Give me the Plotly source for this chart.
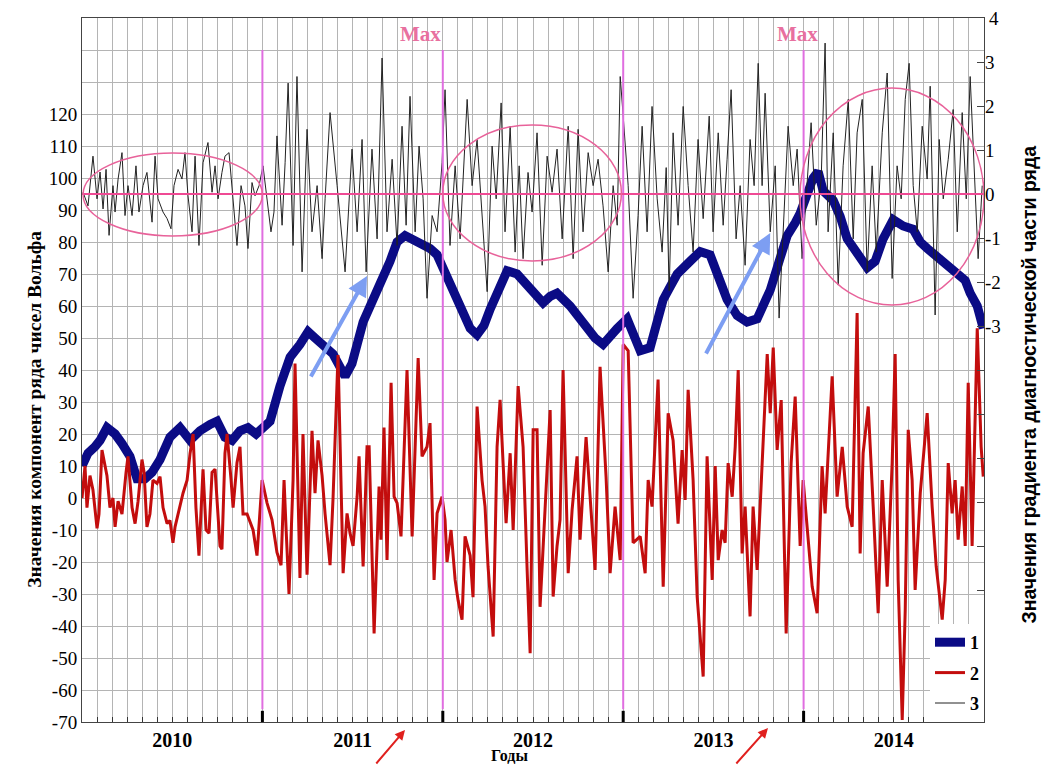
import numpy as np
import plotly.graph_objects as go

# ---------------- data (time in months since Jan 2010) ----------------
blue_t = [0.00,0.40,0.86,1.20,1.66,2.20,2.66,3.19,3.66,4.19,4.66,5.19,5.85,6.52,7.19,7.85,8.52,8.98,9.51,9.98,
          10.51,11.04,11.58,11.98,12.51,13.17,13.84,14.50,15.04,15.50,15.97,16.70,17.50,17.96,18.70,19.29,19.83,
          20.49,20.96,21.49,22.29,23.15,23.62,24.02,24.48,24.95,25.48,25.82,26.28,26.75,27.15,27.81,28.28,28.94,
          29.47,29.81,30.67,31.14,31.60,32.47,33.13,33.60,34.13,34.66,35.13,35.60,36.26,36.66,37.13,37.79,38.26,
          38.66,39.12,39.59,40.45,41.12,41.78,42.45,42.91,43.58,44.24,44.91,45.44,45.78,46.44,46.91,47.44,47.77,
          48.24,48.64,48.97,49.30,49.97,50.43,50.90,51.56,52.23,52.76,53.29,53.96,54.62,55.29,55.76,56.22,56.75,
          57.29,57.88,58.42,58.75,59.08,59.55,59.95]
blue_v = [10,14,16,18,22,20,17,13,6,6,8,12,19,22,18,21,23,24,19,18,
          21,22,20,22,24,35,44,48,52,50,48,45,38,42,55,62,67,
          74,80,82,80,78,76,72,66,62,57,53,51,54,59,66,71,70,
          67,65,61,63,64,60,56,53,50,48,51,53,56,52,46,47,55,
          62,66,70,74,77,76,68,62,57,55,56,61,65,75,82,86,89,
          95,100,102,96,93,88,81,76,72,74,81,87,85,84,80,78,76,
          74,72,70,68,64,60,53]

red_t = [0.00,0.20,0.33,0.53,0.73,1.00,1.13,1.33,1.66,1.86,2.06,2.20,2.40,2.66,2.93,3.06,3.33,3.53,3.73,3.99,
         4.13,4.32,4.52,4.72,4.99,5.19,5.39,5.66,5.85,6.05,6.19,6.39,6.72,6.99,7.19,7.39,7.58,7.78,8.05,8.25,
         8.45,8.65,8.85,9.18,9.31,9.51,9.65,9.91,10.05,10.31,10.51,10.71,10.98,11.38,11.64,11.98,12.31,12.64,
         12.97,13.24,13.44,13.57,13.77,14.04,14.17,14.50,14.70,14.97,15.30,15.50,15.70,15.97,16.17,16.50,16.70,
         17.03,17.37,17.63,17.83,18.03,18.30,18.43,18.70,18.96,19.10,19.43,19.76,19.89,20.09,20.29,20.56,20.76,
         20.96,21.22,21.62,21.96,22.36,22.62,22.95,23.15,23.42,23.62,23.95,24.15,24.28,24.55,24.82,25.02,25.28,
         25.48,25.82,26.01,26.28,26.61,26.81,27.01,27.35,27.61,27.81,28.01,28.21,28.48,28.68,29.01,29.34,29.61,
         29.81,30.01,30.27,30.47,30.80,31.14,31.34,31.60,31.80,32.00,32.34,32.60,32.93,33.13,33.53,33.80,34.13,
         34.46,34.86,35.13,35.46,35.80,36.00,36.33,36.66,37.13,37.46,37.66,37.92,38.32,38.66,38.99,39.32,39.65,
         39.92,40.12,40.32,40.65,40.92,41.32,41.58,41.92,42.12,42.32,42.58,42.78,42.98,43.25,43.45,43.65,43.91,
         44.11,44.44,44.64,44.91,45.11,45.58,45.78,45.98,46.24,46.51,46.84,47.17,47.44,47.77,47.97,48.24,48.57,
         48.90,49.23,49.43,49.90,50.23,50.57,50.90,51.23,51.56,51.76,51.96,52.30,52.63,52.96,53.23,53.56,53.89,
         54.09,54.29,54.56,54.76,54.96,55.22,55.42,55.76,56.22,56.55,56.82,57.22,57.42,57.62,57.88,58.08,58.28,
         58.55,58.75,58.95,59.21,59.55,59.81,59.95]
red_v = [0,10,-3,7,2.5,-9.5,-5,15,7,-3,0,-9,-1,-5,8,13,-3,-8,-1,12,
         8,-9,-5,5.6,4.6,6.7,-3,-8,-7,-14,-9,-5,1.5,5.6,14,20,-3,-18,9,-10,
         -11,8,9,-15,-16,14,20,6,-3,11,16,-5,-5,-10,-18,5.6,-1.6,-6.8,
         -17,-21,5.6,-9,-30,5.6,42,-25,20,-24,21,1.5,18,7,-5,-21,0,
         44.7,-23.5,-4.8,-11,-15,0.4,13,-21.4,16,16,-42.3,3.6,-13,22,-19.4,36,0.4,
         -1.6,-12,40,-12,43.7,13,16,23.4,-25.6,-4.8,0.4,-6.8,-20,-10,-25.6,-32,-38,
         -12,-18,-31,28.6,5.6,-2.7,-21.4,-43.3,16,30.7,10.9,-7.9,14,-10,35,16,-22.5,
         -48.5,21.3,21.3,-34,-4.8,27.5,-30.8,-15,-6.8,40,-23.5,-3.7,13,-13,19,0.4,-22.5,
         41,6.7,-23.5,-2.7,-19.4,48,46,-14,-12,-23.5,5.6,-2.7,37,-27.7,26.5,18,-8,
         15,-0.6,33.8,5.6,-30.8,-55.8,13,-25.6,10,-19.4,-10,-14,10.9,0.4,16,40,-17.3,
         -2.7,-37,-2.7,-22.5,-2.7,45,26.5,47,15,30.6,-42.3,10.9,31.7,-15,5.6,-10,-27.7,
         -36,10,-4.8,38,0.4,16,-2.7,-9,57.8,-17.3,14,28.6,-2.7,-36,5.6,-27.7,10.9,
         45,-25.6,-69.4,-35,21.3,5.6,-28.7,1.5,26.5,-2.7,-21.4,-38,-25.6,10.9,-4.8,5.6,-13,
         3.6,-15,36,-15,53,16,6.7]

black_t = [0.07,0.40,0.73,1.00,1.20,1.40,1.60,1.80,2.06,2.20,2.40,2.66,2.86,3.06,3.33,3.59,3.79,4.06,4.32,4.66,
           4.86,5.06,5.39,5.66,5.92,6.12,6.39,6.65,6.85,7.05,7.32,7.52,7.78,8.05,8.38,8.65,8.85,9.05,9.31,9.51,
           9.78,10.05,10.31,10.58,10.84,11.04,11.31,11.51,11.78,12.04,12.31,12.57,12.77,12.97,13.31,13.51,13.71,
           14.04,14.30,14.64,14.97,15.30,15.64,15.97,16.17,16.50,16.97,17.50,17.96,18.30,18.63,18.90,19.29,19.63,
           19.96,20.29,20.63,20.96,21.29,21.56,21.82,22.16,22.42,22.69,22.95,23.29,23.62,23.95,24.15,24.48,24.82,
           25.15,25.62,25.95,26.28,26.61,26.95,27.28,27.55,27.88,28.14,28.48,28.81,29.08,29.34,29.67,29.94,30.27,
           30.61,30.94,31.27,31.60,31.94,32.34,32.67,33.00,33.33,33.67,34.00,34.33,34.66,35.00,35.33,35.60,35.80,
           36.00,36.33,36.66,36.99,37.26,37.59,37.92,38.26,38.59,38.86,39.06,39.32,39.65,39.99,40.32,40.65,40.98,
           41.32,41.72,41.98,42.32,42.65,42.91,43.18,43.51,43.78,44.11,44.44,44.71,44.98,45.24,45.44,45.78,46.11,
           46.37,46.71,46.97,47.31,47.57,47.90,48.17,48.50,48.84,49.17,49.43,49.63,49.97,50.30,50.63,50.97,51.30,
           51.56,51.90,52.23,52.56,52.83,53.23,53.56,53.89,54.22,54.49,54.76,55.02,55.29,55.56,55.89,56.22,56.42,
           56.75,57.02,57.29,57.62,57.95,58.22,58.55,58.82,59.08,59.35,59.61,59.88]
black_v = [0.04,-0.27,0.86,-0.11,0.5,-0.34,0.56,-0.94,0.19,-0.41,0.34,0.94,-0.49,0.19,-0.49,0.64,-0.41,0.19,0.49,-0.64,
           0.86,-0.11,-0.41,-0.56,-0.79,0.19,0.56,0.34,0.94,-0.04,-0.86,0.86,-1.17,0.71,1.17,0.04,0.64,-0.11,0.49,0.86,
           0.94,-0.11,-1.17,0.19,-0.27,-1.24,0.26,-0.04,0.19,0.64,-0.11,-0.86,-0.41,1.32,-0.71,0.71,2.52,
           -1.17,2.67,-1.77,1.47,-0.86,0.19,-1.47,-0.11,1.85,0.19,-1.77,1.02,-0.86,1.24,-1.77,1.02,-1.02,
           3.09,-0.86,0.79,-1.17,1.54,-0.71,2.22,-0.86,1.09,-0.11,-2.37,-0.49,-0.86,0.71,2.37,-1.17,0.64,
           -1.02,2.15,0.19,1.24,-0.56,-2.22,1.09,-0.11,2.07,-0.86,1.54,-1.32,0.64,-1.47,0.49,-0.41,1.39,
           -1.62,0.86,0.04,1.02,-1.02,1.54,-1.47,1.47,-0.86,0.94,0.19,0.79,-0.27,-1.77,0.19,-0.71,2.67,
           1.77,0.19,-2.37,-0.49,1.54,-0.86,1.99,-0.11,-1.32,0.6,-2.2,1.39,-0.71,1.99,0.19,-1.32,1.24,
           -0.56,1.77,-0.86,1.39,-0.71,0.79,2.37,-1.02,0.19,-1.62,1.24,0.19,2.97,0.19,2.29,-0.86,0.64,
           -2.82,-0.27,1.54,0.19,1.02,-1.47,-0.11,1.62,-0.71,0.34,3.43,-0.86,1.39,-2.07,0.64,2.15,-1.02,
           1.39,2.15,-1.77,0.64,-1.32,1.39,2.75,-1.92,0.64,-0.11,2.15,2.97,0.19,-0.86,1.54,0.34,2.45,
           -2.75,1.24,-0.11,0.79,1.92,-0.86,1.85,-0.11,2.67,0.64,-1.47,0.19]

years = [2010, 2011, 2012, 2013, 2014]
series_names = ["1", "2", "3"]
left_ticks = list(range(-70, 151, 10))
right_ticks = list(range(-11, 5))

def to_year(t):
    return 2010 + np.array(t) / 12.0

SERIF = "Liberation Serif"
SANS = "Liberation Sans"
NAVY = "#0b0b85"
RED = "#c30d0d"
PINK_V = "#e06ee0"
PINK_H = "#ef4a94"
PINK_E = "#e8629a"

fig = go.Figure()
fig.add_trace(go.Scatter(x=to_year(blue_t), y=blue_v, mode="lines", name="<b>%s</b>" % series_names[0],
                         line=dict(color=NAVY, width=9), legendgroup="a"))
fig.add_trace(go.Scatter(x=to_year(red_t), y=red_v, mode="lines", name="<b>%s</b>" % series_names[1],
                         line=dict(color=RED, width=3), legendgroup="b"))
fig.add_trace(go.Scatter(x=to_year(black_t), y=black_v, mode="lines", name="<b>%s</b>" % series_names[2],
                         line=dict(color="#222222", width=1), yaxis="y2", legendgroup="c"))

# x axis: monthly ticks/grid, year labels at mid-year
month_vals = [2010 + i / 12 for i in range(61)]
month_text = [""] * 61
for k, yr in enumerate(years):
    month_text[k * 12 + 6] = "<b>%d</b>" % yr

fig.update_layout(
    width=1035, height=757,
    margin=dict(l=74, r=59, t=10, b=43, autoexpand=False),
    paper_bgcolor="white", plot_bgcolor="white",
    showlegend=True,
    legend=dict(x=1.0, xanchor="right", y=0.0, yanchor="bottom", bgcolor="white",
                font=dict(family=SERIF, size=18, color="black"), tracegroupgap=4,
                borderwidth=0),
    xaxis=dict(range=[2010, 2015], tickmode="array", tickvals=month_vals, ticktext=month_text,
               ticks="inside", ticklen=5, tickcolor="#333", showgrid=True, gridcolor="#b4b4b4",
               gridwidth=1, showline=True, linecolor="#444", linewidth=1, mirror=True, automargin=False,
               tickfont=dict(family=SERIF, size=20, color="black"), zeroline=False),
    yaxis=dict(range=[-70, 150], tickmode="array", tickvals=left_ticks,
               ticktext=[str(v) if v <= 120 else "" for v in left_ticks],
               showgrid=True, gridcolor="#b4b4b4", gridwidth=1, zeroline=False, automargin=False,
               showline=True, linecolor="#444", linewidth=1, mirror=True, ticks="",
               tickfont=dict(family=SERIF, size=19, color="black")),
    yaxis2=dict(range=[-12.0, 4.0], overlaying="y", side="right", tickmode="array",
                tickvals=right_ticks, ticktext=[str(v) if v >= -3 else "" for v in right_ticks],
                showgrid=False, zeroline=False, ticks="inside", ticklen=7, tickcolor="#444",
                automargin=False,
                tickfont=dict(family=SERIF, size=19, color="black"), showline=False),
)

shapes = []
# year boundary lines
for yr in years[1:]:
    shapes.append(dict(type="line", xref="x", yref="y", x0=yr, x1=yr, y0=-66, y1=140,
                       line=dict(color=PINK_V, width=2), layer="above"))
    shapes.append(dict(type="line", xref="x", yref="y", x0=yr, x1=yr, y0=-70, y1=-66.5,
                       line=dict(color="black", width=3), layer="above"))
# zero line of the gradient
shapes.append(dict(type="line", xref="paper", yref="y2", x0=0, x1=1, y0=0, y1=0,
                   line=dict(color=PINK_H, width=2), layer="above"))
# ellipses
for (xa, xb, ya, yb) in [(2010.006, 2011.0, 81.9, 107.8),
                         (2012.0, 2012.99, 74.1, 116.6),
                         (2013.98, 2015.0, 60.3, 128.1)]:
    shapes.append(dict(type="circle", xref="x", yref="y", x0=xa, x1=xb, y0=ya, y1=yb,
                       line=dict(color=PINK_E, width=1.5), layer="above"))
fig.update_layout(shapes=shapes)

ann = []
for xm in [2011.875, 2013.965]:
    ann.append(dict(x=xm, y=145, xref="x", yref="y", text="<b>Max</b>", showarrow=False,
                    font=dict(family=SERIF, size=21, color="#e8709f")))
# the "4" label at the top edge of the right axis
ann.append(dict(x=1.0, y=4.0, xref="paper", yref="y2", text="4", showarrow=False, xanchor="left",
                xshift=3, font=dict(family=SERIF, size=19, color="black")))
# blue arrows
ann.append(dict(x=2011.58, y=69.4, xref="x", yref="y", ax=-57, ay=102, axref="pixel", ayref="pixel",
                showarrow=True, arrowhead=2, arrowsize=1, arrowwidth=4, arrowcolor="#7d9ef2", text=""))
ann.append(dict(x=2013.815, y=82.8, xref="x", yref="y", ax=-65, ay=122, axref="pixel", ayref="pixel",
                showarrow=True, arrowhead=2, arrowsize=1, arrowwidth=4, arrowcolor="#7d9ef2", text=""))
# red arrows below the axis
ann.append(dict(x=(405 - 82) / 902, y=(722 - 730) / 704, xref="paper", yref="paper", ax=-30, ay=40,
                showarrow=True, arrowhead=2, arrowsize=1, arrowwidth=2, arrowcolor="#e0201e", text=""))
ann.append(dict(x=(768 - 82) / 902, y=(722 - 728) / 704, xref="paper", yref="paper", ax=-33, ay=40,
                showarrow=True, arrowhead=2, arrowsize=1, arrowwidth=2, arrowcolor="#e0201e", text=""))
# axis titles
ann.append(dict(x=-0.066, y=0.445, xref="paper", yref="paper", text="<b>Значения компонент ряда чисел Вольфа</b>",
                textangle=-90, showarrow=False, font=dict(family=SERIF, size=19.5, color="black")))
ann.append(dict(x=1.064, y=0.479, xref="paper", yref="paper",
                text="<b>Значения градиента диагностической части ряда</b>",
                textangle=-90, showarrow=False, font=dict(family=SANS, size=19.5, color="black")))
ann.append(dict(x=0.4745, y=-0.063, xref="paper", yref="paper", text="<b>Годы</b>", showarrow=False,
                font=dict(family=SERIF, size=16, color="black")))
fig.update_layout(annotations=ann)

fig.write_html("out.html")
